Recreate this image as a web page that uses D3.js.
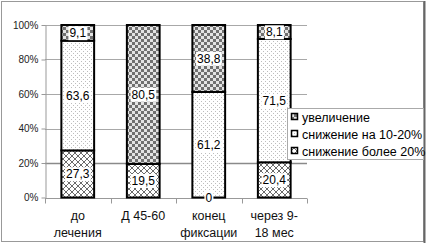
<!DOCTYPE html>
<html>
<head>
<meta charset="utf-8">
<script src="https://cdn.jsdelivr.net/npm/d3@7"></script>
<style>
  body { margin: 0; background: #fff; }
  svg { display: block; font-family: "Liberation Sans", Arial, sans-serif; }
</style>
</head>
<body>
<div id="chart"></div>
<script>
// categories (two-line labels) and series values, bottom to top
let categories = [['до', 'лечения'], ['Д 45-60'], ['конец', 'фиксации'], ['через 9-', '18 мес']];
let seriesNames = ['снижение более 20%', 'снижение на 10-20%', 'увеличение'];
let more20 = [27.3, 19.5, 0, 20.4];
let mid1020 = [63.6, 0, 61.2, 71.5];
let increase = [9.1, 80.5, 38.8, 8.1];
let yTicks = [0, 20, 40, 60, 80, 100];

let width = 426;
let height = 244;
let margin = {top: 25, right: 119, bottom: 46.5, left: 45};

let svg = d3.select('#chart')
    .append('svg')
    .attr('width', width)
    .attr('height', height);

// patterns
let defs = svg.append('defs');
let pCheck = defs.append('pattern').attr('id', 'pCheck')
    .attr('patternUnits', 'userSpaceOnUse').attr('width', 6).attr('height', 6);
pCheck.append('rect').attr('width', 6).attr('height', 6).attr('fill', '#e4e4e4');
pCheck.append('rect').attr('width', 3).attr('height', 3).attr('fill', '#707070');
pCheck.append('rect').attr('x', 3).attr('y', 3).attr('width', 3).attr('height', 3).attr('fill', '#707070');

let pDots = defs.append('pattern').attr('id', 'pDots')
    .attr('patternUnits', 'userSpaceOnUse').attr('width', 4).attr('height', 4);
pDots.append('rect').attr('width', 4).attr('height', 4).attr('fill', '#fff');
pDots.append('rect').attr('x', 1).attr('y', 1).attr('width', 1).attr('height', 1).attr('fill', '#bdbdbd');
pDots.append('rect').attr('x', 3).attr('y', 3).attr('width', 1).attr('height', 1).attr('fill', '#bdbdbd');

let pCross = defs.append('pattern').attr('id', 'pCross')
    .attr('patternUnits', 'userSpaceOnUse').attr('width', 6).attr('height', 6);
pCross.append('rect').attr('width', 6).attr('height', 6).attr('fill', '#fff');
pCross.append('path').attr('d', 'M0,0L6,6M6,0L0,6')
    .attr('stroke', '#444').attr('stroke-width', 0.8);

let fills = ['url(#pCross)', 'url(#pDots)', 'url(#pCheck)'];

// outer frame
svg.append('rect')
    .attr('x', 1.5).attr('y', 1.5)
    .attr('width', 422).attr('height', 240)
    .attr('fill', 'none').attr('stroke', '#999');
svg.append('line')
    .attr('x1', 424.5).attr('x2', 424.5).attr('y1', 1).attr('y2', 243)
    .attr('stroke', '#666').attr('stroke-width', 2);

let x = d3.scaleBand()
    .domain(d3.range(categories.length))
    .range([margin.left, width - margin.right])
    .paddingInner(0.5)
    .paddingOuter(0.25);

let y = d3.scaleLinear()
    .domain([0, 100])
    .range([height - margin.bottom, margin.top]);

// gridlines
svg.append('g')
    .selectAll('line')
    .data(yTicks.filter(d => d > 0))
    .enter()
    .append('line')
        .attr('x1', margin.left)
        .attr('x2', width - margin.right)
        .attr('y1', d => Math.round(y(d)) + 0.5)
        .attr('y2', d => Math.round(y(d)) + 0.5)
        .attr('stroke', d => d == 20 ? '#8a8a8a' : '#a8a8a8')
        .attr('stroke-width', d => d == 20 ? 1.6 : 1);

// y axis
let yAxis = svg.append('g')
    .attr('transform', `translate(${margin.left + 0.5}, 0)`)
    .call(d3.axisLeft(y).tickValues(yTicks).tickFormat(d => d + '%').tickSize(4).tickSizeOuter(0));
yAxis.select('.domain').attr('stroke', '#999');
yAxis.selectAll('line').attr('stroke', '#999');
yAxis.selectAll('text')
    .attr('font-size', 10)
    .attr('fill', '#222')
    .attr('font-family', '"Liberation Sans", Arial, sans-serif');

// x axis line and boundary ticks
let y0 = Math.round(y(0)) + 0.5;
svg.append('line')
    .attr('x1', margin.left).attr('x2', width - margin.right)
    .attr('y1', y0).attr('y2', y0)
    .attr('stroke', '#999');
let step = x.step();
svg.append('g')
    .selectAll('line')
    .data(d3.range(categories.length + 1))
    .enter()
    .append('line')
        .attr('x1', i => Math.round(margin.left + i * step) + 0.5)
        .attr('x2', i => Math.round(margin.left + i * step) + 0.5)
        .attr('y1', y0).attr('y2', y0 + 5)
        .attr('stroke', '#999');

// category labels
let catLabels = svg.append('g')
    .selectAll('text')
    .data(categories)
    .enter()
    .append('text')
        .attr('text-anchor', 'middle')
        .attr('font-size', 12.5)
        .attr('fill', '#111');
catLabels.each(function(lines, i) {
    lines.forEach((t, j) => {
        d3.select(this).append('tspan')
            .attr('x', x(i) + x.bandwidth() / 2)
            .attr('y', 220 + j * 17)
            .text(t);
    });
});

// stacked bars
let rows = categories.map((c, i) => ({i: i, s0: more20[i], s1: mid1020[i], s2: increase[i]}));
let stack = d3.stack().keys(['s0', 's1', 's2'])(rows);

let layers = svg.append('g')
    .selectAll('g')
    .data(stack)
    .enter()
    .append('g')
        .attr('fill', (d, k) => fills[k]);

layers.selectAll('rect')
    .data(d => d)
    .enter()
    .append('rect')
        .attr('x', d => x(d.data.i))
        .attr('y', d => y(d[1]))
        .attr('width', x.bandwidth())
        .attr('height', d => y(d[0]) - y(d[1]))
        .attr('stroke', '#000')
        .attr('stroke-width', 2);

// value labels with white background
let labelData = [];
stack.forEach((layer, k) => {
    layer.forEach(d => {
        let v = d[1] - d[0];
        if (v > 0 || k == 0) {
            labelData.push({i: d.data.i, v: v, mid: (d[0] + d[1]) / 2});
        }
    });
});

let labels = svg.append('g')
    .selectAll('g')
    .data(labelData)
    .enter()
    .append('g');

labels.append('text')
    .attr('x', d => x(d.i) + x.bandwidth() / 2)
    .attr('y', d => y(d.mid))
    .attr('dy', '0.36em')
    .attr('text-anchor', 'middle')
    .attr('font-size', 12)
    .attr('fill', '#000')
    .text(d => d3.format('.1f')(d.v).replace('.', ',').replace(',0', ''));

labels.each(function() {
    let g = d3.select(this);
    let b = g.select('text').node().getBBox();
    g.insert('rect', 'text')
        .attr('x', b.x - 1)
        .attr('y', b.y)
        .attr('width', b.width + 2)
        .attr('height', b.height)
        .attr('fill', '#fff');
});

// legend (top to bottom: увеличение, на 10-20%, более 20%)
let legend = svg.append('g');
legend.append('rect')
    .attr('x', 287.5).attr('y', 108.5)
    .attr('width', 136).attr('height', 51)
    .attr('fill', '#fff').attr('stroke', '#aaa');

let legendItems = legend.selectAll('g.item')
    .data([2, 1, 0])
    .enter()
    .append('g')
        .attr('class', 'item')
        .attr('transform', (k, j) => `translate(291, ${117 + j * 17})`);

legendItems.append('rect')
    .attr('x', 0.5).attr('y', -3.5)
    .attr('width', 6).attr('height', 6)
    .attr('fill', k => fills[k])
    .attr('stroke', '#000')
    .attr('stroke-width', 1.5);

legendItems.append('text')
    .attr('x', 11)
    .attr('dy', '0.36em')
    .attr('font-size', 12.5)
    .attr('fill', '#000')
    .text(k => seriesNames[k]);
</script>
</body>
</html>
